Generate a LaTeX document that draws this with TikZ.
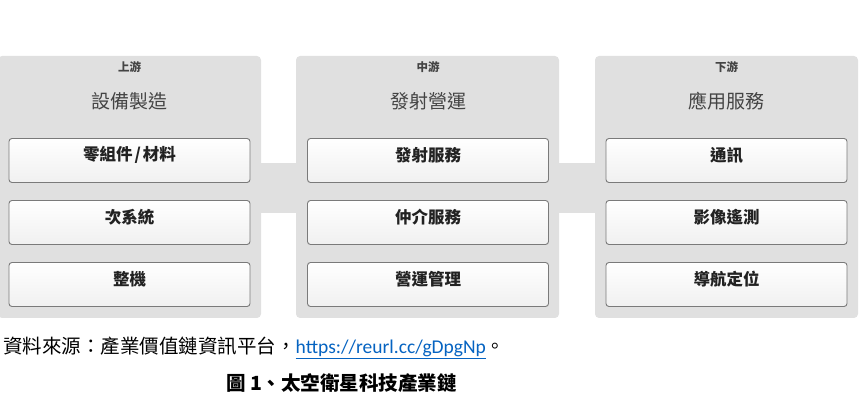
\documentclass[tikz,border=0pt]{standalone}
\usepackage{fontspec}
\newfontfamily\cjk{Noto Sans CJK TC}
\newfontfamily\calfont{Carlito}
\definecolor{panelgray}{HTML}{E0E0E0}
\definecolor{boxborder}{HTML}{7A7A7A}
\definecolor{boxbottom}{HTML}{F0F0F0}
\definecolor{titlecol}{HTML}{444444}
\definecolor{itemcol}{HTML}{222222}
\definecolor{linkblue}{HTML}{0563C1}
\tikzset{
  panel/.style={fill=panelgray, rounded corners=4pt, minimum width=263pt, minimum height=262pt, inner sep=0pt},
  itembox/.style={draw=boxborder, line width=0.9pt, rounded corners=3pt, top color=white, bottom color=boxbottom, minimum width=241pt, minimum height=44pt, inner sep=0pt},
  itemtext/.style={font={\cjk\bfseries\fontsize{16.5}{19}\selectfont}, text=itemcol, inner sep=0pt},
  smalllabel/.style={font={\cjk\bfseries\fontsize{11.5}{13}\selectfont}, text=titlecol, inner sep=0pt},
  paneltitle/.style={font={\cjk\fontsize{19}{22}\selectfont}, text=titlecol, inner sep=0pt},
  captext/.style={font={\cjk\fontsize{19.5}{23}\selectfont}, text=black, inner sep=0pt}
}
\begin{document}
\begin{tikzpicture}[x=1pt,y=-1pt]
\useasboundingbox (0,0) rectangle (865,403);
\coordinate (bt) at (0,163);
\coordinate (bb) at (0,213);
% panels
\node[panel] (p1) at (129.5,187) {};
\node[panel] (p2) at (427.5,187) {};
\node[panel] (p3) at (726.5,187) {};
% bands between panels
\fill[panelgray] (p1.east |- bt) rectangle (p2.west |- bb);
\fill[panelgray] (p2.east |- bt) rectangle (p3.west |- bb);
% labels and titles
\node[smalllabel] (l1) at (129.5,67) {上游};
\node[smalllabel] (l2) at (428,67) {中游};
\node[smalllabel] (l3) at (726.5,67) {下游};
\node[paneltitle] (t1) at (129.5,101) {設備製造};
\node[paneltitle] (t2) at (428,101) {發射營運};
\node[paneltitle] (t3) at (726.5,101) {應用服務};
% boxes
\node[itembox] (a1) at (129.5,160.5) {};
\node[itembox] (a2) at (129.5,222.5) {};
\node[itembox] (a3) at (129.5,284.5) {};
\node[itembox] (b1) at (428,160.5) {};
\node[itembox] (b2) at (428,222.5) {};
\node[itembox] (b3) at (428,284.5) {};
\node[itembox] (c1) at (726.5,160.5) {};
\node[itembox] (c2) at (726.5,222.5) {};
\node[itembox] (c3) at (726.5,284.5) {};
\node[itemtext] (ta1) at ([yshift=5.5pt]a1.center) {零組件\kern2pt/\kern2pt材料};
\node[itemtext] (ta2) at ([yshift=5.5pt]a2.center) {次系統};
\node[itemtext] (ta3) at ([yshift=5.5pt]a3.center) {整機};
\node[itemtext] (tb1) at ([yshift=5.5pt]b1.center) {發射服務};
\node[itemtext] (tb2) at ([yshift=5.5pt]b2.center) {仲介服務};
\node[itemtext] (tb3) at ([yshift=5.5pt]b3.center) {營運管理};
\node[itemtext] (tc1) at ([yshift=5.5pt]c1.center) {通訊};
\node[itemtext] (tc2) at ([yshift=5.5pt]c2.center) {影像遙測};
\node[itemtext] (tc3) at ([yshift=5.5pt]c3.center) {導航定位};
% captions
\node[captext, anchor=west] (src) at (3,348) {資料來源：產業價值鏈資訊平台，{\calfont\color{linkblue}\underline{https://reurl.cc/gDpgNp}}。};
\node[captext, font={\cjk\bfseries\fontsize{19.5}{23}\selectfont}] (cap) at (341.5,383) {圖 1、太空衛星科技產業鏈};
\end{tikzpicture}
\end{document}
